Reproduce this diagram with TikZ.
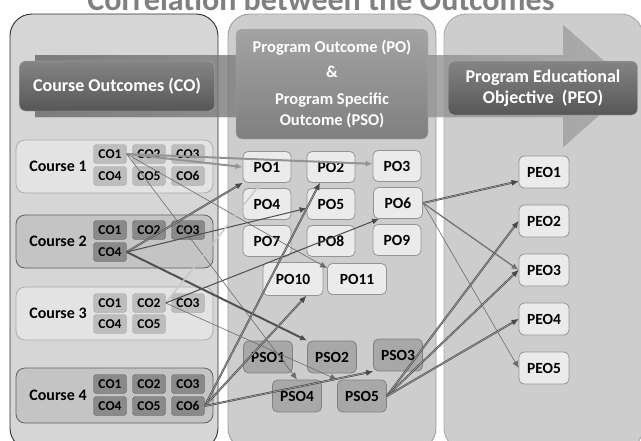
\documentclass[tikz,border=0pt]{standalone}
\usepackage{fontspec}
\setmainfont{Carlito}
\usetikzlibrary{arrows.meta}
\tikzset{>={Latex[width=6pt,length=7pt]}}
\definecolor{panelgray}{HTML}{D6D6D6}
\definecolor{sidegray}{HTML}{CDCDCD}
\newcommand{\TITLEfont}{\fontsize{32}{36}\selectfont\bfseries}
\newcommand{\HEADfont}{\fontsize{18}{21}\selectfont\bfseries}
\newcommand{\CRSfont}{\fontsize{16}{18}\selectfont\bfseries}
\newcommand{\COfont}{\fontsize{13.5}{15}\selectfont\bfseries}
\newcommand{\POfont}{\fontsize{15.5}{17}\selectfont\bfseries}

\begin{document}
\begin{tikzpicture}[x=1pt,y=-1pt,
  panel/.style={rounded corners=22pt, line width=0.9pt},
  head/.style={draw=black!30, rounded corners=6pt, text=white, font=\HEADfont,
    align=center, inner sep=0pt},
  crs/.style={rounded corners=9pt, minimum width=197pt, minimum height=53pt,
    inner sep=0pt, line width=0.8pt},
  crslight/.style={crs, fill=black!11, draw=black!32},
  crsdark/.style={crs, fill=black!23, draw=black!62},
  crslab/.style={font=\CRSfont, inner sep=0pt},
  co/.style={rounded corners=3pt, minimum width=33pt, minimum height=19pt,
    inner sep=0pt, font=\COfont},
  colight/.style={co, fill=black!26, draw=black!35},
  codark/.style={co, fill=black!46, draw=black!62},
  po/.style={rounded corners=5pt, minimum width=48pt, minimum height=31pt,
    inner sep=0pt, font=\POfont, fill=black!8, draw=black!42, line width=0.8pt},
  pso/.style={po, minimum width=49pt, minimum height=32pt, fill=black!34, draw=black!50},
  peo/.style={po, minimum width=50pt, minimum height=32pt},
  heavy/.style={->, draw=black!72, double=black!38, double distance=0.7pt,
    line width=0.6pt},
  wide/.style={->, draw=black!42, line width=2pt},
  dark/.style={->, draw=black!70, line width=1pt},
  bold/.style={->, draw=black!68, line width=2pt},
  thin/.style={->, draw=black!58, line width=0.6pt},
  pale/.style={->, draw=black!22, line width=1.4pt}
]

  \useasboundingbox (0,0) rectangle (641,440);

  %% title, cut at the top
  \node[font=\TITLEfont, text=black!50, anchor=base] (title) at (321,10)
  {Correlation between the Outcomes};

  %% three panels
  \draw[panel, fill=panelgray, draw=black!82] (10,14) rectangle (218,450);
  \draw[panel, fill=sidegray, draw=black!38] (228,14) rectangle (436,450);
  \draw[panel, fill=sidegray, draw=black!33] (444,14) rectangle (643,450);

  %% big arrow behind the headers
  \fill[left color=black!42, right color=black!6, fill opacity=0.55]
  (35,55) -- (563,55) -- (563,25) -- (632,86) -- (563,147) -- (563,117)
  -- (35,117) -- cycle;

  \node[head, minimum width=195pt, minimum height=50pt,
    top color=black!48, bottom color=black!66] (cohead) at (117,86)
  {Course Outcomes (CO)};
  \node[head, minimum width=192pt, minimum height=110pt,
    top color=black!36, bottom color=black!50, font=\fontsize{16.5}{20}\selectfont\bfseries]
  (pohead) at (332,84)
  {Program Outcome (PO)\\[5pt]\&\\[7pt]Program Specific\\[1pt]Outcome (PSO)};
  \node[head, minimum width=189pt, minimum height=54pt,
    top color=black!48, bottom color=black!66] (peohead) at (543,88)
  {Program Educational\\Objective\ \ (PEO)};

  %% courses
  \node[crslight] (course1) at (114.5,166.5) {};
  \node[crsdark]  (course2) at (114.5,241.5) {};
  \node[crslight] (course3) at (114.5,313.5) {};
  \node[crsdark, minimum height=55pt] (course4) at (114.5,395.5) {};
  \node[crslab] (lab1) at (58,166) {Course 1};
  \node[crslab] (lab2) at (58,241) {Course 2};
  \node[crslab] (lab3) at (58,313) {Course 3};
  \node[crslab] (lab4) at (58,395) {Course 4};

  \node[colight] (c1co1) at (110,154) {CO1};
  \node[colight] (c1co2) at (149,154) {CO2};
  \node[colight] (c1co3) at (188,154) {CO3};
  \node[colight] (c1co4) at (110,176) {CO4};
  \node[colight] (c1co5) at (149,176) {CO5};
  \node[colight] (c1co6) at (188,176) {CO6};

  \node[codark] (c2co1) at (110,230) {CO1};
  \node[codark] (c2co2) at (149,230) {CO2};
  \node[codark] (c2co3) at (188,230) {CO3};
  \node[codark] (c2co4) at (110,252) {CO4};

  \node[colight] (c3co1) at (110,303) {CO1};
  \node[colight] (c3co2) at (149,303) {CO2};
  \node[colight] (c3co3) at (188,303) {CO3};
  \node[colight] (c3co4) at (110,324) {CO4};
  \node[colight] (c3co5) at (149,324) {CO5};

  \node[codark] (c4co1) at (110,384) {CO1};
  \node[codark] (c4co2) at (149,384) {CO2};
  \node[codark] (c4co3) at (188,384) {CO3};
  \node[codark] (c4co4) at (110,406) {CO4};
  \node[codark] (c4co5) at (149,406) {CO5};
  \node[codark] (c4co6) at (188,406) {CO6};

  %% program outcomes
  \node[po] (po1) at (267,167) {PO1};
  \node[po] (po2) at (331,167) {PO2};
  \node[po] (po3) at (397,166) {PO3};
  \node[po] (po4) at (267,204) {PO4};
  \node[po] (po5) at (331,204) {PO5};
  \node[po, minimum width=49pt] (po6) at (398,203) {PO6};
  \node[po] (po7) at (267,241) {PO7};
  \node[po] (po8) at (331,241) {PO8};
  \node[po] (po9) at (397,240) {PO9};
  \node[po, minimum width=60pt, minimum height=33pt] (po10) at (293,279) {PO10};
  \node[po, minimum width=59pt, minimum height=31pt] (po11) at (357,279) {PO11};

  \node[pso] (pso1) at (268,357) {PSO1};
  \node[pso] (pso2) at (332,357) {PSO2};
  \node[pso] (pso3) at (398,355) {PSO3};
  \node[pso] (pso4) at (297,396) {PSO4};
  \node[pso] (pso5) at (362,396) {PSO5};

  \node[peo] (peo1) at (544,172) {PEO1};
  \node[peo] (peo2) at (544,221) {PEO2};
  \node[peo] (peo3) at (544,270) {PEO3};
  \node[peo] (peo4) at (544,319) {PEO4};
  \node[peo] (peo5) at (544,368) {PEO5};

  %% course 1
  \draw[wide] (c1co1.east) -- (po1.west);
  \draw[wide] (c1co1.east) -- (po3.175);
  \draw[thin] (c1co1.east) -- (po11.160);
  \draw[thin] (c1co1.east) -- (pso4.north);
  %% course 2
  \draw[heavy] (c2co4.east) -- (po1.south west);
  \draw[dark] (c2co4.east) -- (po5.190);
  \draw[bold] (c2co4.east) -- (pso2.north west);
  %% course 3
  \draw[pale] (c3co2.east) -- (po1.250);
  \draw[dark] (c3co2.east) -- (po6.220);
  \draw[thin] (c3co2.east) -- (pso5.north west);
  %% course 4
  \draw[heavy] (c4co6.east) -- (po2.235);
  \draw[heavy] (c4co6.east) -- (po10.308);
  \draw[heavy] (c4co6.east) -- (pso3.south west);
  %% towards the PEOs
  \draw[heavy] (po6.east) -- (peo1.200);
  \draw[->, draw=black!55, line width=1.3pt] (po6.east) -- (peo3.west);
  \draw[thin] (po6.east) -- (peo5.west);
  \draw[heavy] (pso5.east) -- (peo2.west);
  \draw[heavy] (pso5.east) -- (peo3.west);
  \draw[heavy] (pso5.east) -- (peo4.west);

\end{tikzpicture}
\end{document}
